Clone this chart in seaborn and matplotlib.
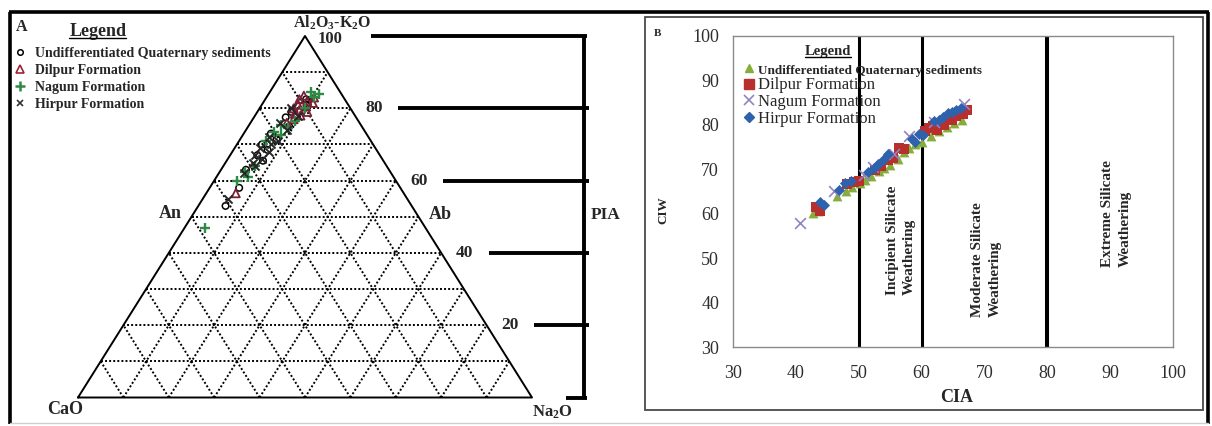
import numpy as np
import pandas as pd
import matplotlib
matplotlib.use("Agg")
import matplotlib.pyplot as plt
from matplotlib.lines import Line2D
from matplotlib.patches import Rectangle
import seaborn as sns

# ---------------------------------------------------------------- data
formations = ["Undifferentiated Quaternary sediments", "Dilpur Formation",
              "Nagum Formation", "Hirpur Formation"]

# A-CN-K style ternary, molar %: Al2O3-K2O (apex) and Na2O; CaO is the remainder
undiff_al = [82.5, 81, 79, 77.5, 75, 73, 71.5, 70, 68.5, 67, 65.5, 63, 58, 53]
undiff_na = [9, 10, 7.5, 7, 9, 6, 8, 5.5, 7.5, 6, 8, 5.5, 6.5, 6]
dilpur_al = [83.5, 83, 82.5, 82, 81.5, 81, 80.5, 80, 79.5, 79, 78.5, 78, 77, 76, 56.5]
dilpur_na = [8, 10.5, 7.5, 9.5, 11, 8, 10, 7.5, 9, 11, 8.5, 10, 9, 8, 6.5]
nagum_al = [84.5, 84, 83, 80, 76.5, 75.5, 74.5, 73.5, 72.5, 71, 64, 62.5, 61, 60, 47]
nagum_na = [9, 11, 10.5, 10, 9.5, 7, 9, 6.5, 8.5, 6, 7, 5.5, 7, 5, 4.5]
hirpur_al = [80, 78, 76, 74, 72, 71, 70, 69, 68, 67, 66, 65, 64, 62, 55]
hirpur_na = [7, 9.5, 6.5, 9, 6, 8.5, 7.5, 5.5, 8, 5.5, 7.5, 6, 7, 5.5, 5.5]

# Weathering indices
undiff_cia = [42.8, 43.6, 46.5, 48.0, 49.0, 50.2, 51.0, 52.0, 53.2, 54.0, 55.0,
              56.2, 57.2, 58.0, 59.0, 60.0, 61.5, 62.8, 64.0, 65.2, 66.4]
undiff_ciw = [60.2, 60.6, 64.0, 65.2, 66.0, 67.0, 67.6, 68.4, 69.6, 70.2, 71.0,
              72.4, 73.8, 74.8, 75.6, 76.2, 77.6, 78.6, 79.6, 80.4, 81.2]
dilpur_cia = [43.2, 43.8, 48.2, 49.2, 50.0, 52.6, 53.6, 54.6, 55.4, 56.4, 57.2, 60.6,
              61.2, 61.8, 62.4, 63.0, 63.6, 64.2, 64.8, 65.4, 66.0, 66.6, 67.2]
dilpur_ciw = [61.4, 60.6, 66.6, 67.2, 67.4, 69.8, 70.8, 72.0, 72.6, 74.8, 74.6, 78.6,
              79.2, 79.8, 78.8, 80.4, 80.0, 81.2, 81.0, 82.0, 82.6, 82.4, 83.4]
nagum_cia = [40.6, 46.0, 50.8, 52.2, 55.6, 58.0, 62.0, 66.8]
nagum_ciw = [58.0, 65.2, 68.8, 70.6, 73.4, 77.6, 80.6, 84.6]
hirpur_cia = [43.8, 44.4, 46.8, 47.8, 48.8, 51.4, 52.4, 53.0, 53.8, 54.6, 58.4,
              59.0, 59.6, 60.2, 62.0, 62.8, 63.4, 64.2, 64.8, 65.4, 66.2]
hirpur_ciw = [62.6, 62.0, 65.4, 67.0, 67.4, 69.4, 70.2, 71.2, 72.0, 73.4, 76.8,
              76.2, 78.0, 77.8, 80.8, 81.2, 81.8, 82.6, 82.8, 83.4, 83.8]

pia_ticks = [20, 40, 60, 80]
cia_boundaries = [50, 60, 80]
zone_labels = ["Incipient Silicate\nWeathering", "Moderate Silicate\nWeathering",
               "Extreme Silicate\nWeathering"]
axis_ticks = [30, 40, 50, 60, 70, 80, 90, 100]

# ---------------------------------------------------------------- style
sns.set_theme(style="white")
serif = ["Liberation Serif", "DejaVu Serif"]
plt.rcParams["font.family"] = serif
plt.rcParams["mathtext.fontset"] = "custom"
plt.rcParams["mathtext.rm"] = "Liberation Serif:bold"
plt.rcParams["mathtext.it"] = "Liberation Serif:bold:italic"
plt.rcParams["mathtext.bf"] = "Liberation Serif:bold"
plt.rcParams["mathtext.default"] = "rm"

W, H = 1212, 426
fig = plt.figure(figsize=(W / 100, H / 100), dpi=100)
fig.patch.set_facecolor("white")


def fx(px):
    return px / W


def fy(py):
    return 1 - py / H


def fbox(l, t, r, b):
    return [l / W, 1 - b / H, (r - l) / W, (b - t) / H]


# ---------------------------------------------------------------- frames
frame_kw = dict(color="black", lw=2.6, transform=fig.transFigure, solid_capstyle="butt")
fig.add_artist(Line2D([fx(9), fx(1209)], [fy(12), fy(12)], **frame_kw))
fig.add_artist(Line2D([fx(10), fx(10)], [fy(12), fy(424)], **frame_kw))
fig.add_artist(Line2D([fx(1208), fx(1208)], [fy(12), fy(424)], **frame_kw))
fig.add_artist(Line2D([fx(10), fx(1208)], [fy(423), fy(423)], color="#cfcfcf", lw=1,
                      transform=fig.transFigure))
fig.add_artist(Rectangle((fx(645), fy(410)), (1203 - 645) / W, (410 - 17) / H,
                         transform=fig.transFigure, fill=False, ec="#4a4a4a", lw=1.3))

# ---------------------------------------------------------------- panel A : ternary
ax_t = fig.add_axes([0, 0, 1, 1])
ax_t.set_xlim(-78 / 454 * 100, (W - 78) / 454 * 100)
ax_t.set_ylim(-(H - 397.5) / 361.5 * 100, 397.5 / 361.5 * 100)
ax_t.axis("off")


def tern(al, na):
    al = np.asarray(al, float)
    na = np.asarray(na, float)
    return na + al / 2, al


dot = dict(color="black", lw=1.4, ls=(0, (1, 1.1)))
for i in range(1, 10):
    v = 10 * i
    ax_t.plot([v / 2, 100 - v / 2], [v, v], **dot)
    ax_t.plot([v, 50 + v / 2], [0, 100 - v], **dot)
    ax_t.plot([v, v / 2], [0, v], **dot)
ax_t.plot([0, 100, 50, 0], [0, 0, 100, 0], color="black", lw=1.4)

# PIA scale bracket
bx = 111.45
bkw = dict(color="black", lw=2.8, solid_capstyle="butt")
ax_t.plot([bx, bx], [0, 100], **bkw)
ax_t.plot([64.5, bx + 0.6], [100, 100], **bkw)
ax_t.plot([107.5, bx + 0.6], [0, 0], **bkw)
for v in pia_ticks:
    side = 100 - v / 2
    ax_t.plot([side + 10.5, bx + 1.2], [v, v], **bkw)
    ax_t.text(side + 5.2, v, str(v), ha="center", va="center",
              fontsize=12.5, fontweight="bold")
ax_t.text(55.5, 99.2, "100", ha="center", va="center", fontsize=12, fontweight="bold")
ax_t.text(55.9, 103.6, r"Al$_{2}$O$_{3}$-K$_{2}$O", ha="center", va="center",
          fontsize=11.5, fontweight="bold")
ax_t.text(20.3, 50.8, "An", ha="center", va="center", fontsize=13, fontweight="bold")
ax_t.text(79.7, 50.5, "Ab", ha="center", va="center", fontsize=13, fontweight="bold")
ax_t.text(116.2, 50.5, "PIA", ha="center", va="center", fontsize=12.5, fontweight="bold")
ax_t.text(-2.9, -3.2, "CaO", ha="center", va="center", fontsize=13, fontweight="bold")
ax_t.text(104.6, -4.0, r"Na$_{2}$O", ha="center", va="center", fontsize=12,
          fontweight="bold")

tern_style = [
    (undiff_al, undiff_na, dict(marker="o", color="black", facecolor="none",
                                edgecolor="black", s=22, linewidth=1.1)),
    (dilpur_al, dilpur_na, dict(marker="^", color="#7a1f33", facecolor="none",
                                edgecolor="#7a1f33", s=34, linewidth=1.3)),
    (nagum_al, nagum_na, dict(marker="+", color="#2e8b45", s=55, linewidth=1.7)),
    (hirpur_al, hirpur_na, dict(marker="x", color="#262626", s=34, linewidth=1.4)),
]
for al, na, kw in tern_style:
    tx, ty = tern(al, na)
    sns.scatterplot(x=tx, y=ty, ax=ax_t, legend=False, zorder=3, **kw)

fig.text(fx(22), fy(27), "A", ha="center", va="center", fontsize=11.5, fontweight="bold")
leg_a_title = fig.text(fx(98), fy(31), "Legend", ha="center", va="center",
                       fontsize=13, fontweight="bold")
handles_a = [
    Line2D([], [], ls="", marker="o", mfc="none", mec="black", ms=4, mew=1.1),
    Line2D([], [], ls="", marker="^", mfc="none", mec="#9b2335", ms=5.5, mew=1.2),
    Line2D([], [], ls="", marker="+", color="#2e8b45", ms=7, mew=1.8),
    Line2D([], [], ls="", marker="x", color="#333333", ms=5, mew=1.2),
]
ax_t.legend(handles_a, formations, loc="upper left",
            bbox_to_anchor=(fx(13), fy(47)), bbox_transform=fig.transFigure,
            frameon=False, prop=dict(family=serif, weight="bold", size=10),
            handlelength=1.0, handletextpad=0.6, borderpad=0, borderaxespad=0,
            labelspacing=0.28)

# ---------------------------------------------------------------- panel B : CIA vs CIW
ax_b = fig.add_axes(fbox(733, 36, 1173, 347))
ax_b.set_facecolor("white")
for x0, lw in zip(cia_boundaries, [2.2, 2.2, 2.9]):
    ax_b.axvline(x0, color="black", lw=lw, zorder=1)

b_series = [
    (undiff_cia, undiff_ciw, dict(marker="^", color="#86ad3c", s=50, linewidth=0)),
    (dilpur_cia, dilpur_ciw, dict(marker="s", color="#b8302e", s=50, linewidth=0)),
    (nagum_cia, nagum_ciw, dict(marker="x", color="#9283c4", s=60, linewidth=1.2)),
    (hirpur_cia, hirpur_ciw, dict(marker="D", color="#2f62ad", s=32, linewidth=0)),
]
for xs, ys, kw in b_series:
    sns.scatterplot(x=xs, y=ys, ax=ax_b, legend=False, zorder=3, **kw)

ax_b.set_xlim(30, 100)
ax_b.set_ylim(30, 100)
ax_b.set_xticks(axis_ticks)
ax_b.set_yticks(axis_ticks)
for sp in ax_b.spines.values():
    sp.set_visible(True)
    sp.set_color("#8a8a8a")
    sp.set_linewidth(1.0)
ax_b.tick_params(axis="both", direction="out", length=4, width=0.9, color="#8a8a8a",
                 labelsize=13, labelcolor="#2e2e2e")
ax_b.tick_params(axis="x", pad=9)
ax_b.tick_params(axis="y", pad=6)
ax_b.grid(False)

zone_pos = [(56.7, 41.7), (70.3, 36.8), (91.0, 48.0)]
for (zx, zy), lab in zip(zone_pos, zone_labels):
    ax_b.text(zx, zy, lab, rotation=90, ha="center", va="bottom", multialignment="left",
              fontsize=11, fontweight="bold", linespacing=1.4, zorder=4)

fig.text(fx(657), fy(33), "B", ha="center", va="center", fontsize=8, fontweight="bold")
fig.text(fx(663), fy(210), "CIW", rotation=90, ha="center", va="center",
         fontsize=9.5, fontweight="bold")
fig.text(fx(957), fy(397), "CIA", ha="center", va="center", fontsize=13,
         fontweight="bold")

leg_b_title = fig.text(fx(828), fy(52), "Legend", ha="center", va="center",
                       fontsize=10.5, fontweight="bold", zorder=6)
handles_b = [
    Line2D([], [], ls="", marker="^", color="#86ad3c", ms=6),
    Line2D([], [], ls="", marker="s", color="#b8302e", ms=6.5),
    Line2D([], [], ls="", marker="x", color="#9283c4", ms=7, mew=1.2),
    Line2D([], [], ls="", marker="D", color="#2f62ad", ms=5),
]
leg_b = ax_b.legend(handles_b, formations, loc="upper left",
                    bbox_to_anchor=(fx(744), fy(62)), bbox_transform=fig.transFigure,
                    frameon=False, prop=dict(family=serif, size=12),
                    handlelength=0.6, handletextpad=0.25, borderpad=0,
                    borderaxespad=0, labelspacing=0.05)
leg_b.set_zorder(6)
t0 = leg_b.get_texts()[0]
t0.set_fontsize(9.5)
t0.set_fontweight("bold")

# underline the two legend titles
fig.canvas.draw()
renderer = fig.canvas.get_renderer()
for t in (leg_a_title, leg_b_title):
    bb = t.get_window_extent(renderer).transformed(fig.transFigure.inverted())
    fig.add_artist(Line2D([bb.x0, bb.x1], [bb.y0 + 0.004, bb.y0 + 0.004], color="black",
                          lw=1.0, transform=fig.transFigure, zorder=7))

fig.savefig("out.png", dpi=100, facecolor="white")
